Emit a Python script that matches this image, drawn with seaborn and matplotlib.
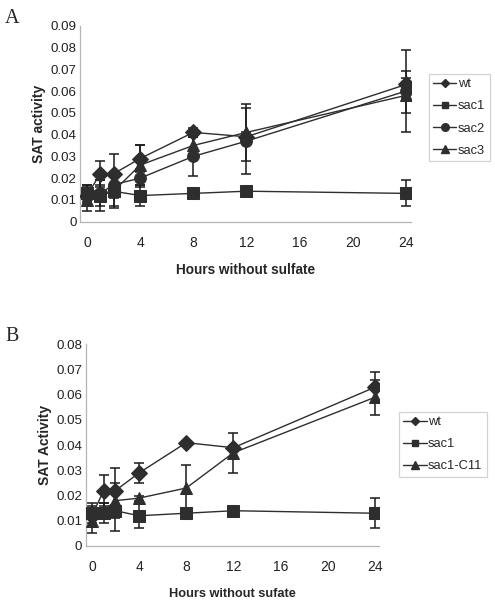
"""SAT activity time course after sulfate removal (panels A and B)."""

import matplotlib
matplotlib.use("Agg")
import matplotlib.pyplot as plt
from matplotlib.lines import Line2D
import numpy as np
import pandas as pd
import seaborn as sns

sns.set_style("white")
plt.rcParams["font.family"] = ["Liberation Sans", "DejaVu Sans"]

# Sampling times (hours) and x tick labels
hours = [0, 1, 2, 4, 8, 12, 24]
x_ticks = [0, 4, 8, 12, 16, 20, 24]

# Panel A
a_lines = ["wt", "sac1", "sac2", "sac3"]
a_wt = [0.012, 0.022, 0.022, 0.029, 0.041, 0.039, 0.063]
a_sac1 = [0.013, 0.012, 0.014, 0.012, 0.013, 0.014, 0.013]
a_sac2 = [0.012, 0.013, 0.017, 0.020, 0.030, 0.037, 0.060]
a_sac3 = [0.010, 0.013, 0.014, 0.026, 0.035, 0.041, 0.058]
a_wt_err = [0.005, 0.006, 0.009, 0.006, 0.002, 0.002, 0.006]
a_sac1_err = [0.004, 0.007, 0.007, 0.005, 0.001, 0.001, 0.006]
a_sac2_err = [0.004, 0.006, 0.006, 0.004, 0.009, 0.015, 0.019]
a_sac3_err = [0.005, 0.004, 0.0075, 0.009, 0.004, 0.013, 0.008]

# Panel B
b_lines = ["wt", "sac1", "sac1-C11"]
b_wt = [0.012, 0.022, 0.022, 0.029, 0.041, 0.039, 0.063]
b_sac1 = [0.013, 0.013, 0.014, 0.012, 0.013, 0.014, 0.013]
b_c11 = [0.010, 0.014, 0.018, 0.019, 0.023, 0.037, 0.059]
b_wt_err = [0.004, 0.006, 0.009, 0.004, 0.0005, 0.0005, 0.006]
b_sac1_err = [0.004, 0.004, 0.008, 0.005, 0.001, 0.0005, 0.006]
b_c11_err = [0.005, 0.003, 0.007, 0.001, 0.009, 0.008, 0.007]

MARKERS = {"wt": "D", "sac1": "s", "sac2": "o", "sac3": "^", "sac1-C11": "^"}
LEGEND_SIZE = {"wt": 4.5, "sac1": 5, "sac2": 5.5, "sac3": 5.5, "sac1-C11": 5.5}
INK = "#2e2e2e"
SPINE = "#b5b5b5"


def draw_panel(ax, names, values, errors, ymax, ylabel, xlabel, legend_box,
               xlabel_size=9.8):
    rows = []
    for name, vals in zip(names, values):
        for h, v in zip(hours, vals):
            rows.append({"hours": h, "activity": v, "line": name})
    df = pd.DataFrame(rows)

    sns.lineplot(data=df, x="hours", y="activity", hue="line", style="line",
                 markers={n: MARKERS[n] for n in names}, dashes=False,
                 palette={n: INK for n in names}, markersize=8.5,
                 markeredgecolor=INK, linewidth=1.0, ax=ax, legend=False,
                 zorder=3)
    for vals, errs in zip(values, errors):
        ax.errorbar(hours, vals, yerr=errs, fmt="none", ecolor="#1a1a1a",
                    elinewidth=1.1, capsize=3.6, capthick=1.1, zorder=2)

    ax.set_xlim(-0.5, 24.35)
    ax.set_ylim(0, ymax)
    ax.set_xticks(x_ticks)
    ax.set_xticklabels([str(t) for t in x_ticks], fontsize=10, color="#222222")
    ax.set_xticks([t - 0.5 for t in x_ticks], minor=True)
    ax.tick_params(axis="x", which="major", length=0, pad=10)
    ax.tick_params(axis="x", which="minor", length=4, width=0.8,
                   color=SPINE, direction="out")
    yt = np.round(np.arange(0, ymax + 1e-9, 0.01), 2)
    ax.set_yticks(yt)
    ax.set_yticklabels(["0" if v == 0 else f"{v:.2f}" for v in yt],
                       fontsize=9.6, color="#222222")
    ax.tick_params(axis="y", length=1.5, width=0.8, color=SPINE,
                   direction="out", pad=1.2)

    for side in ("top", "right"):
        ax.spines[side].set_visible(False)
    for side in ("left", "bottom"):
        ax.spines[side].set_color(SPINE)
        ax.spines[side].set_linewidth(0.9)

    ax.set_ylabel(ylabel, fontsize=10, fontweight="bold", labelpad=3)
    ax.set_xlabel(xlabel, fontsize=xlabel_size, fontweight="bold", labelpad=10)

    handles = [Line2D([], [], color=INK, marker=MARKERS[n],
                      markersize=LEGEND_SIZE[n], linewidth=1.0) for n in names]
    leg = ax.legend(handles, names, loc="upper left",
                    bbox_to_anchor=legend_box, bbox_transform=ax.figure.transFigure,
                    frameon=True, fancybox=False, fontsize=9.3,
                    handlelength=1.8, handletextpad=0.1, labelspacing=0.78,
                    borderpad=0.35, borderaxespad=0)
    leg.get_frame().set_edgecolor("#c8c8c8")
    leg.get_frame().set_linewidth(0.9)


fig = plt.figure(figsize=(4.95, 6.0), dpi=100)
fig.patch.set_facecolor("white")

ax_a = fig.add_axes([0.1622, 0.6305, 0.6675, 0.3267])
draw_panel(ax_a, a_lines, [a_wt, a_sac1, a_sac2, a_sac3],
           [a_wt_err, a_sac1_err, a_sac2_err, a_sac3_err], 0.09,
           "SAT activity", "Hours without sulfate", (0.866, 0.877))

ax_b = fig.add_axes([0.1737, 0.09, 0.592, 0.336])
draw_panel(ax_b, b_lines, [b_wt, b_sac1, b_c11],
           [b_wt_err, b_sac1_err, b_c11_err], 0.08,
           "SAT Activity", "Hours without sufate", (0.806, 0.314),
           xlabel_size=9.2)

fig.text(0.010, 0.962, "A", fontsize=14.5, family=["Liberation Serif", "DejaVu Serif"])
fig.text(0.010, 0.432, "B", fontsize=14.5, family=["Liberation Serif", "DejaVu Serif"])

fig.savefig("out.png", dpi=100)
plt.close(fig)
